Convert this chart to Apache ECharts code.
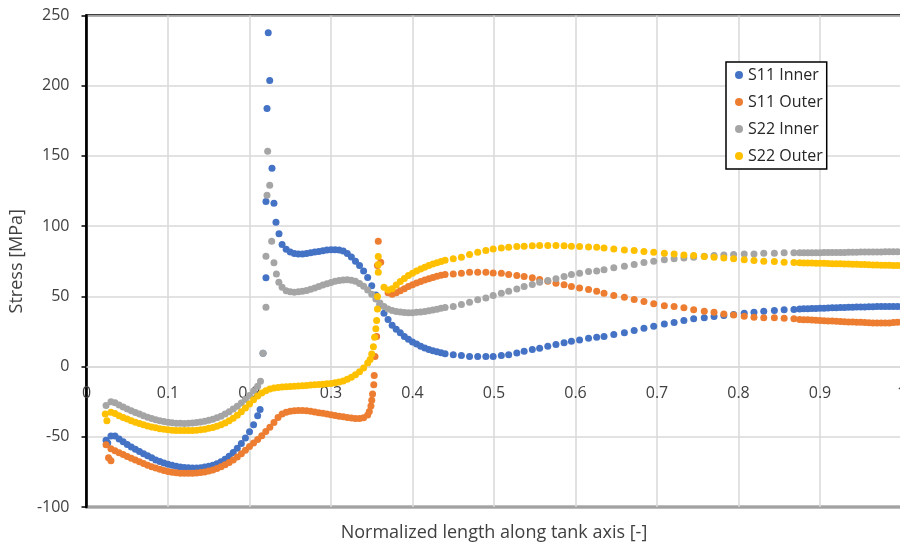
<!DOCTYPE html>
<html><head><meta charset="utf-8">
<script src="https://cdn.jsdelivr.net/npm/echarts@6/dist/echarts.min.js"></script>
<style>html,body{margin:0;padding:0;background:#fff}#c{width:900px;height:545px}</style>
</head><body><div id="c"></div>
<script>
// shared x positions of the mesh nodes
const xLeft = [0.030,0.035,0.040,0.045,0.050,0.055,0.060,0.065,0.070,0.075,0.080,0.085,0.090,0.095,0.100,0.105,0.110,0.115,0.120,0.125,0.130,0.135,0.140,0.145,0.150,0.155,0.160,0.165,0.170,0.175,0.180,0.185,0.190,0.195,0.200,0.205,0.210];
const xBridge = [0.215,0.220,0.225,0.230,0.235];
const xMid = [0.240,0.245,0.250,0.255,0.260,0.265,0.270,0.275,0.280,0.285,0.290,0.295,0.300,0.305,0.310,0.315,0.320,0.325,0.330,0.335,0.340,0.345,0.350,0.355,0.360,0.365,0.370,0.375,0.380,0.385,0.390,0.395,0.400,0.405,0.410,0.415,0.420,0.425,0.430,0.435,0.440];
const xSparse = [0.450,0.460,0.470,0.480,0.490,0.499,0.509,0.518,0.528,0.537,0.547,0.556,0.566,0.576,0.586,0.595,0.605,0.616,0.626,0.635,0.647,0.660,0.672,0.684,0.696,0.709,0.721,0.733,0.745,0.758,0.770,0.782,0.794,0.807,0.819,0.831,0.844,0.856,0.868];
const xRight = [0.875,0.880,0.885,0.890,0.895,0.900,0.905,0.910,0.915,0.920,0.925,0.930,0.935,0.940,0.945,0.950,0.955,0.960,0.965,0.970,0.975,0.980,0.985,0.990,0.995,1.000];

// S11 Inner
const s11InnerLeft = [-49.5,-49.5,-51.5,-53.5,-55.5,-57.2,-58.8,-60.5,-62,-63.5,-65,-66.5,-67.6,-68.6,-69.5,-70.3,-71,-71.5,-71.8,-72,-72.2,-72.2,-72,-71.6,-71,-70.2,-69.2,-67.8,-66,-63.8,-61.2,-58.2,-54.8,-50.8,-46.5,-41.5,-35];
const s11InnerMid = [87,83.5,81.5,80.5,80.2,80.2,80.5,81,81.5,82,82.5,83,83.2,83.2,83,82.3,80.5,78,75,72,68,63.5,57.5,51,44,38,33.5,29.5,26.5,24,21.5,19.5,17.5,16,14.5,13.3,12.2,11.3,10.5,9.8,9.2];
const s11InnerSparse = [8.5,7.8,7.1,7.1,7.1,7.1,7.8,8.5,9.7,10.9,12.1,13.1,14.5,15.7,16.9,18.0,19.0,20.2,20.9,21.4,22.8,24.0,25.6,27.3,28.7,30.4,31.3,32.8,34.0,34.7,35.6,36.3,37.0,38.0,38.7,39.4,39.9,40.4,40.6];
const s11InnerRight = [41.0,41.1,41.2,41.3,41.4,41.5,41.6,41.7,41.8,41.9,42.0,42.1,42.2,42.3,42.4,42.5,42.5,42.6,42.6,42.7,42.7,42.7,42.8,42.8,42.8,42.8];
const s11InnerExtra = [[0.024,-52.5],[0.026,-54.5],[0.213,-30.5],[0.2166,9.5],[0.2202,63.2],[0.2202,117.5],[0.2215,183.8],[0.223,237.7],[0.2248,203.7],[0.2276,141.2],[0.230,116.3],[0.2325,102.8],[0.2362,94.5]];

// S11 Outer
const s11OuterLeft = [-58.5,-60,-61.3,-62.6,-64,-65.3,-66.5,-67.8,-69,-70.2,-71.3,-72.3,-73.2,-74,-74.7,-75.2,-75.6,-75.9,-76,-76,-76,-75.8,-75.5,-75,-74.4,-73.6,-72.6,-71.4,-70,-68.4,-66.5,-64.4,-62,-59.5,-57,-54.5,-52];
const s11OuterBridge = [-49.2,-46.3,-43.2,-39.8,-36.2];
const s11OuterMid = [-33.8,-32.5,-31.8,-31.5,-31.3,-31.3,-31.5,-31.8,-32.3,-32.8,-33.3,-33.8,-34.3,-34.8,-35.3,-35.8,-36.3,-36.7,-37,-37,-36.5,-34.5,null,null,null,null,52.5,51.5,52.5,54,55.5,57,58.3,59.5,60.6,61.6,62.6,63.5,64.3,65,65.6];
const s11OuterSparse = [66.0,66.5,67.2,67.2,67.2,66.7,66.5,65.5,64.8,64.1,63.2,62.0,60.8,59.4,58.2,57.0,56.0,54.8,53.6,52.2,50.6,49.4,47.7,46.3,44.7,43.4,42.7,41.8,40.4,39.4,38.7,37.5,36.8,35.8,35.1,34.7,34.7,34.4,34.0];
const s11OuterRight = [33.6,33.4,33.3,33.1,33.0,32.8,32.7,32.5,32.4,32.2,32.1,32.0,31.8,31.7,31.6,31.5,31.3,31.2,31.1,31.0,31.0,31.0,31.1,31.3,31.5,31.6];
const s11OuterExtra = [[0.024,-55.6],[0.027,-65],[0.030,-67],[0.347,-32],[0.349,-28],[0.350,-24],[0.351,-19.5],[0.3525,-13],[0.353,-6.4],[0.354,7.1],[0.356,21.4],[0.357,72],[0.358,89.3],[0.361,74.3]];

// S22 Inner
const s22InnerLeft = [-25,-25.8,-27.3,-28.8,-30.2,-31.5,-32.7,-33.8,-35,-36,-37,-37.8,-38.5,-39.1,-39.6,-40,-40.3,-40.4,-40.5,-40.4,-40.2,-39.9,-39.5,-39,-38.3,-37.5,-36.5,-35.3,-33.8,-32.2,-30.3,-28.2,-26,-23.4,-20.6,-17.4,-14];
const s22InnerMid = [56.5,54,53.2,53,53.2,53.6,54.2,55,56,57,58,59,59.9,60.7,61.3,61.7,61.8,61.5,60.7,59.2,57.2,54.6,51.5,48.2,45.2,42.8,41,39.9,39.2,38.8,38.5,38.4,38.4,38.6,38.9,39.3,39.8,40.3,40.9,41.5,42.1];
const s22InnerSparse = [42.7,44.2,45.8,47.5,48.9,50.6,52.2,53.6,55.3,57.0,58.4,60.1,61.3,62.5,64.1,65.5,66.5,67.7,68.0,69.0,70.3,71.5,72.6,74.1,75.0,76.0,76.7,77.4,77.9,78.6,79.1,79.5,79.8,80.2,80.2,80.7,80.7,81.0,81.0];
const s22InnerRight = [81.0,81.0,81.0,81.1,81.1,81.1,81.2,81.2,81.2,81.3,81.3,81.3,81.4,81.4,81.4,81.5,81.5,81.5,81.6,81.6,81.6,81.7,81.7,81.7,81.7,81.8];
const s22InnerExtra = [[0.024,-27.8],[0.2135,-10.5],[0.2166,9.5],[0.2202,42.3],[0.2202,78.6],[0.2215,122],[0.2223,153.4],[0.2248,129.2],[0.2272,89.3],[0.230,73.9],[0.233,66],[0.236,60]];

// S22 Outer
const s22OuterLeft = [-32.5,-33.5,-35,-36.2,-37.4,-38.5,-39.6,-40.6,-41.5,-42.3,-43,-43.6,-44.2,-44.6,-45,-45.3,-45.5,-45.6,-45.6,-45.6,-45.5,-45.3,-45,-44.6,-44,-43.3,-42.5,-41.4,-40.1,-38.6,-36.8,-34.6,-32.2,-29.5,-26.6,-23.6,-21];
const s22OuterBridge = [-18.8,-17.2,-16,-15.3,-14.9];
const s22OuterMid = [-14.6,-14.4,-14.2,-14,-13.8,-13.6,-13.4,-13.2,-13,-12.8,-12.6,-12.3,-12,-11.6,-11,-10.2,-9,-7.6,-5.8,-3.6,-1,2.5,null,null,null,56.5,54.5,55.5,58,60.5,62.8,64.8,66.5,68,69.4,70.7,71.9,73,74,74.9,75.7];
const s22OuterSparse = [76.7,77.9,79.8,81.4,82.6,83.8,84.5,85.0,85.5,85.7,86.0,86.2,86.2,86.2,86.0,85.7,85.5,85.2,85.0,84.5,83.8,83.1,82.6,81.9,81.4,80.7,80.2,79.5,79.1,78.3,77.9,77.4,76.7,76.0,75.5,75.0,74.8,74.3,74.1];
const s22OuterRight = [73.9,73.8,73.8,73.7,73.6,73.5,73.5,73.4,73.3,73.2,73.2,73.1,73.0,72.9,72.8,72.7,72.6,72.5,72.4,72.3,72.2,72.2,72.1,72.0,72.0,71.9];
const s22OuterExtra = [[0.023,-33.7],[0.025,-38.5],[0.348,5],[0.350,9],[0.352,14.2],[0.3535,20.9],[0.355,27],[0.356,32.8],[0.357,41],[0.357,49.9],[0.358,67.2],[0.358,72.6],[0.358,78.3]];

const seriesNames = ['S11 Inner','S11 Outer','S22 Inner','S22 Outer'];
const seriesColors = ['#4472C4','#ED7D31','#A5A5A5','#FFC000'];

function build(segs, extra){
  const out = [];
  segs.forEach(([xs, ys]) => xs.forEach((x, i) => { if (ys[i] != null) out.push([x, ys[i]]); }));
  return out.concat(extra);
}
const seriesData = [
  build([[xLeft,s11InnerLeft],[xMid,s11InnerMid],[xSparse,s11InnerSparse],[xRight,s11InnerRight]], s11InnerExtra),
  build([[xLeft,s11OuterLeft],[xBridge,s11OuterBridge],[xMid,s11OuterMid],[xSparse,s11OuterSparse],[xRight,s11OuterRight]], s11OuterExtra),
  build([[xLeft,s22InnerLeft],[xMid,s22InnerMid],[xSparse,s22InnerSparse],[xRight,s22InnerRight]], s22InnerExtra),
  build([[xLeft,s22OuterLeft],[xBridge,s22OuterBridge],[xMid,s22OuterMid],[xSparse,s22OuterSparse],[xRight,s22OuterRight]], s22OuterExtra)
];

const FONT = 'Open Sans';
const Y_MIN = -100, Y_MAX = 250;
const GRID_TOP = 15.5, GRID_BOTTOM = 38, H = 545;
// move the x axis (labels) up to the y = 0 line, as in the reference
const plotH = H - GRID_TOP - GRID_BOTTOM;
const xAxisOffset = -plotH * (0 - Y_MIN) / (Y_MAX - Y_MIN);

const chart = echarts.init(document.getElementById('c'), null, {renderer: 'canvas'});
chart.setOption({
  animation: false,
  backgroundColor: '#fff',
  textStyle: {fontFamily: FONT},
  grid: {left: 86.5, right: -1.5, top: GRID_TOP, bottom: GRID_BOTTOM, show: true, borderColor: '#000', borderWidth: 2.5, backgroundColor: 'transparent', containLabel: false, outerBoundsMode: 'none'},
  legend: {
    data: seriesNames, orient: 'vertical', left: 726, top: 62,
    icon: 'circle', itemWidth: 8, itemHeight: 8, itemGap: 9,
    padding: [4, 4, 4, 9],
    backgroundColor: '#fff', borderColor: '#000', borderWidth: 1.5,
    textStyle: {fontFamily: FONT, fontSize: 16, color: '#262626', lineHeight: 18}
  },
  xAxis: [{
    type: 'value', min: 0, max: 1, interval: 0.1, position: 'bottom', offset: xAxisOffset,
    axisLine: {show: true, onZero: false, lineStyle: {color: '#d9d9d9', width: 1.5}},
    axisTick: {show: false},
    axisLabel: {fontFamily: FONT, fontSize: 16, color: '#404040', margin: 19, showMinLabel: true, showMaxLabel: true},
    splitLine: {show: true, lineStyle: {color: '#d9d9d9', width: 1.5}},
    name: 'Normalized length along tank axis [-]', nameLocation: 'middle', nameGap: 157,
    nameTextStyle: {fontFamily: FONT, fontSize: 18, color: '#404040'}
  }],
  yAxis: {
    type: 'value', min: Y_MIN, max: Y_MAX, interval: 50,
    axisLine: {show: true, lineStyle: {color: '#000', width: 2.5}},
    axisTick: {show: true, length: 5, lineStyle: {color: '#000', width: 1.5}},
    axisLabel: {fontFamily: FONT, fontSize: 16, color: '#404040', margin: 17},
    splitLine: {show: true, lineStyle: {color: '#d9d9d9', width: 1.5}},
    name: 'Stress [MPa]', nameLocation: 'middle', nameGap: 59,
    nameTextStyle: {fontFamily: FONT, fontSize: 18, color: '#404040'}
  },
  series: seriesNames.map((n, i) => ({
    name: n, type: 'scatter', data: seriesData[i], symbol: 'circle', symbolSize: 7,
    itemStyle: {color: seriesColors[i], opacity: 1},
    emphasis: {disabled: true}
  }))
});
</script></body></html>
